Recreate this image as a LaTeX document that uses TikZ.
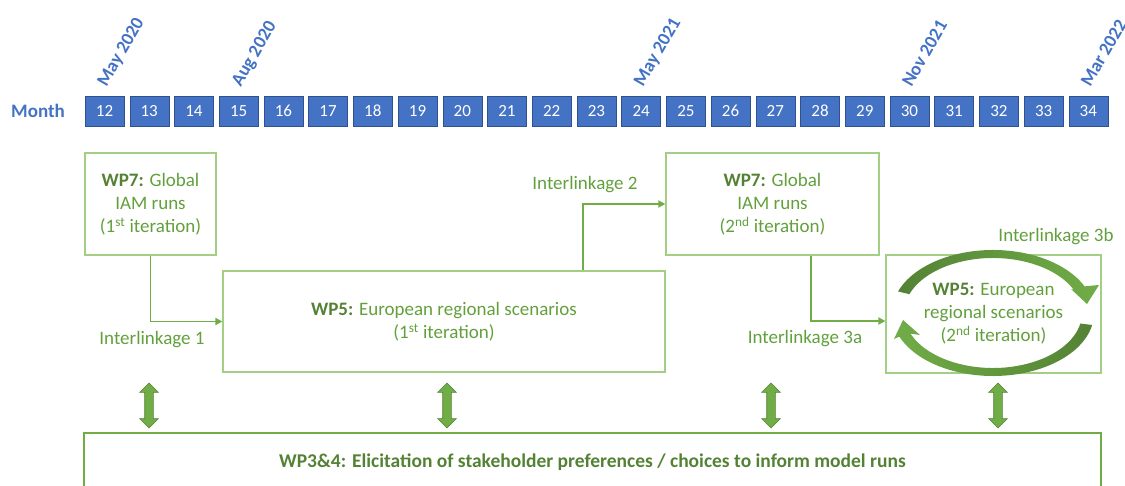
\documentclass[tikz,border=0pt]{standalone}
\usepackage{fontspec}
\setmainfont{Carlito}
\usepackage{xcolor}
\usepackage{tikz}
\usetikzlibrary{shapes.arrows, arrows.meta, positioning, calc}

\definecolor{monthblue}{HTML}{4472C4}
\definecolor{monthedge}{HTML}{2F528F}
\definecolor{wpgreen}{HTML}{70AD47}
\definecolor{wpdark}{HTML}{548235}
\definecolor{txtgreen}{HTML}{62A03C}
\definecolor{boxgreen}{HTML}{A2CF84}

\newcommand{\wplabel}[1]{\textbf{\textcolor{wpdark}{#1}}}

\begin{document}
\begin{tikzpicture}[
   x=1pt, y=1pt,
   monthbox/.style = {draw=monthedge, fill=monthblue, text=white, minimum width=39pt, minimum height=30pt, inner sep=0pt, font=\fontsize{17}{20}\selectfont},
   datelabel/.style = {text=monthblue, rotate=60, anchor=base west, inner sep=0pt, font=\bfseries\fontsize{18.5}{22}\selectfont},
   wpbox/.style = {draw=boxgreen, line width=1.2pt, text=txtgreen, align=center, inner sep=0pt, font=\fontsize{19}{23}\selectfont},
   linklabel/.style = {text=txtgreen, font=\fontsize{19}{23}\selectfont},
   line/.style = {draw=wpgreen, line width=1.8pt, -{Triangle[width=7pt,length=7pt]}},
   twoway/.style = {double arrow, draw=wpdark, fill=wpgreen, line width=0.6pt, rotate=90, minimum height=45pt, inner xsep=0pt, inner ysep=4pt, double arrow head extend=5pt}
   ]
  \useasboundingbox (0,0) rectangle (1125,-486);

  % Month row
  \node[text=monthblue, font=\bfseries\fontsize{19}{23}\selectfont] (monthlabel) at (38,-111) {Month};
  \node[monthbox] (m12) at (104.5,-111) {12};
  \foreach \n [remember=\n as \prev (initially 12)] in {13,...,34}
   \node[monthbox, right=5.32pt of m\prev] (m\n) {\n};

  % Dates
  \node[datelabel] (may20) at ($(m12.north)+(2,8)$) {May 2020};
  \node[datelabel] (aug20) at ($(m15.north)+(2,8)$) {Aug 2020};
  \node[datelabel] (may21) at ($(m24.north)+(2,8)$) {May 2021};
  \node[datelabel] (nov21) at ($(m30.north)+(2,8)$) {Nov 2021};
  \node[datelabel] (mar22) at ($(m34.north)+(2,8)$) {Mar 2022};

  % WP7 boxes
  \node[wpbox, minimum width=131pt, minimum height=102pt] (wp7a) at (150.5,-204)
   {\wplabel{WP7:} Global\\ IAM runs\\ (1\textsuperscript{st} iteration)};
  \node[wpbox, minimum width=213pt, minimum height=102pt] (wp7b) at (772.5,-204)
   {\wplabel{WP7:} Global\\ IAM runs\\ (2\textsuperscript{nd} iteration)};

  % WP5 boxes
  \node[wpbox, minimum width=442pt, minimum height=101pt] (wp5a) at (444,-321.5)
   {\wplabel{WP5:} European regional scenarios\\ (1\textsuperscript{st} iteration)};
  \node[wpbox, minimum width=215pt, minimum height=118pt] (wp5b) at (993.5,-314)
   {\wplabel{WP5:} European\\ regional scenarios\\ (2\textsuperscript{nd} iteration)};

  % Stakeholder box
  \node[wpbox, draw=wpgreen, minimum width=1017pt, minimum height=58pt, font=\bfseries\fontsize{19.5}{23}\selectfont, text=wpdark] (wp34) at (592.5,-462)
   {WP3\&4: Elicitation of stakeholder preferences / choices to inform model runs};

  % Interlinkages
  \draw[line] (wp7a.south) |- (wp5a.west);
  \draw[line] ($(wp5a.north west)!0.814!(wp5a.north east)$) |- (wp7b.west);
  \draw[line] ($(wp7b.south west)!0.68!(wp7b.south east)$) |- ($(wp5b.west)+(0,-7)$);
  \node[linklabel] (il1) at (152,-340) {Interlinkage 1};
  \node[linklabel] (il2) at (585,-185) {Interlinkage 2};
  \node[linklabel] (il3a) at (805,-339) {Interlinkage 3a};
  \node[linklabel] (il3b) at (1056,-237) {Interlinkage 3b};

  % Loop inside second WP5 box
  \coordinate (c5) at (993,-313);
  \shade[left color=wpdark, right color=wpgreen]
   ($(c5)+(160:101 and 63)$) arc[start angle=160, end angle=25, x radius=101, y radius=63]
   -- (1099,-285) -- (1087,-304) -- (1071,-289)
   -- ($(c5)+(25:89 and 55)$) arc[start angle=25, end angle=160, x radius=89, y radius=55] -- cycle;
  \shade[left color=wpgreen, right color=wpdark]
   ($(c5)+(-11:101 and 63)$) arc[start angle=-11, end angle=-158, x radius=101, y radius=63]
   -- (894,-339) -- (903,-320) -- (920,-335)
   -- ($(c5)+(-158:89 and 55)$) arc[start angle=-158, end angle=-11, x radius=89, y radius=55] -- cycle;

  % Two-way arrows
  \node[twoway] (tw1) at (149,-405.5) {};
  \node[twoway] (tw2) at (447,-405.5) {};
  \node[twoway] (tw3) at (771,-405.5) {};
  \node[twoway] (tw4) at (998,-405.5) {};
\end{tikzpicture}
\end{document}
